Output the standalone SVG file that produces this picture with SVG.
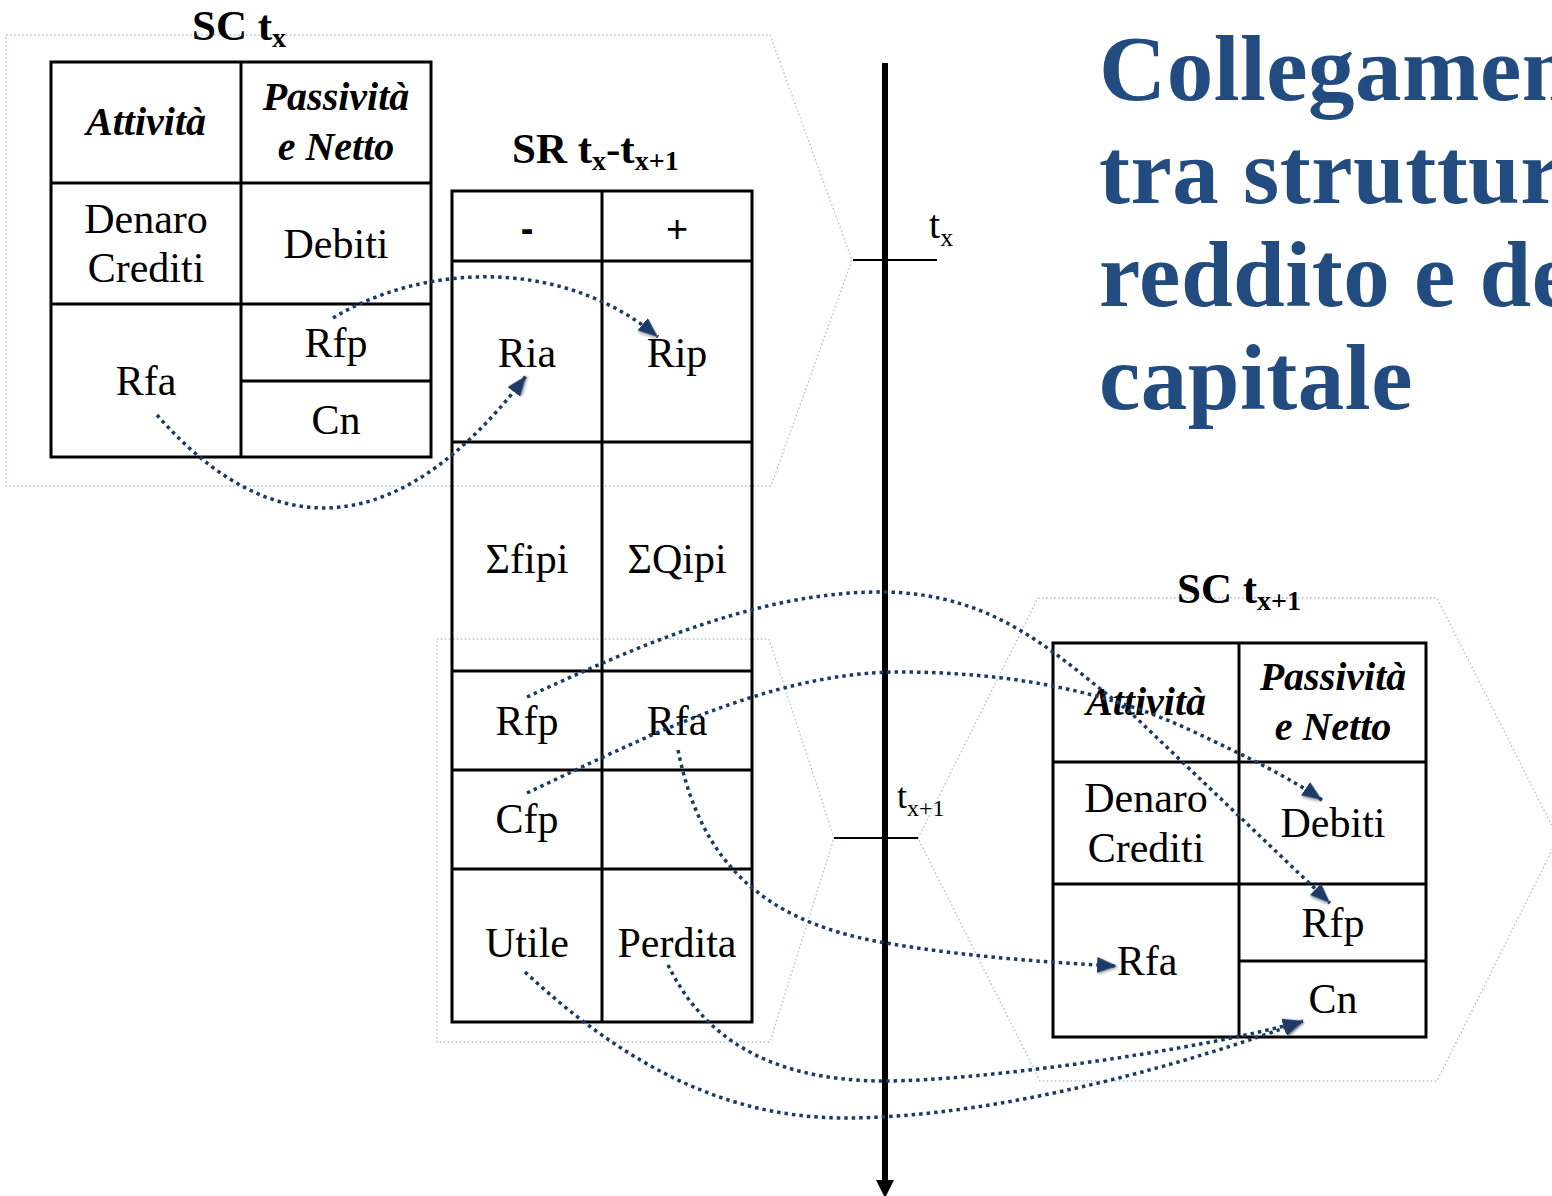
<svg xmlns="http://www.w3.org/2000/svg" width="1552" height="1196" viewBox="0 0 1552 1196">
<style>
.hex{fill:none;stroke:#A9BEDC;stroke-width:1.3;stroke-dasharray:1.5 2.5}
.tb{fill:none;stroke:#000;stroke-width:3}
.t{font-family:"Liberation Serif","DejaVu Serif",serif;font-size:42px;fill:#000;text-anchor:middle}
.bi{font-family:"Liberation Serif","DejaVu Serif",serif;font-size:40px;font-weight:bold;font-style:italic;fill:#000;text-anchor:middle}
.hd{font-family:"Liberation Serif","DejaVu Serif",serif;font-size:43px;font-weight:bold;fill:#000}
.sg{font-family:"Liberation Sans",Arial,sans-serif;font-size:38px;fill:#000;text-anchor:middle}
.ax{font-family:"Liberation Serif","DejaVu Serif",serif;fill:#000}
.ti{font-family:"Liberation Serif","DejaVu Serif",serif;font-size:93px;font-weight:bold;fill:#224B7F;letter-spacing:0.5px}
.cn{fill:none;stroke:#1B3A66;stroke-width:3.5;stroke-dasharray:3.5 4;marker-end:url(#ah)}
</style>
<defs>
<filter id="sh" x="-50%" y="-50%" width="200%" height="200%">
<feDropShadow dx="1.5" dy="1.5" stdDeviation="1" flood-color="#000" flood-opacity="0.35"/>
</filter>
<marker id="ah" markerWidth="22" markerHeight="18" refX="20" refY="8" orient="auto" markerUnits="userSpaceOnUse">
<path d="M0,0 L20,8 L0,16 z" fill="#1B3A66" filter="url(#sh)"/>
</marker>
</defs>
<rect width="1552" height="1196" fill="#fff"/>

<g id="frames">
<polygon class="hex" points="6,35 770,35 852,260 771,486 6,486"/>
<polygon class="hex" points="437,639 769,639 834,838 770,1042 437,1042"/>
<polygon class="hex" points="1038,598 1437,598 1558,838 1437,1081 1040,1081 918,838"/>
</g>

<g id="title">
<text class="ti" x="1099" y="100">Collegamento</text>
<text class="ti" x="1099" y="203">tra struttura</text>
<text class="ti" x="1099" y="306">reddito e del</text>
<text class="ti" x="1099" y="409">capitale</text>
</g>

<g id="time-axis">
<line x1="885" y1="63" x2="885" y2="1182" stroke="#000" stroke-width="6"/>
<polygon points="876,1180 894,1180 885,1198" fill="#000"/>
<line x1="853" y1="260" x2="937" y2="260" stroke="#000" stroke-width="2"/>
<line x1="834" y1="838" x2="918" y2="838" stroke="#000" stroke-width="2"/>
<text class="ax" x="929" y="238" font-size="40">t<tspan font-size="26" dy="8">x</tspan></text>
<text class="ax" x="897" y="808" font-size="36">t<tspan font-size="24" dy="8">x+1</tspan></text>
</g>

<g id="sc-tx">
<text class="hd" x="192" y="40">SC t<tspan font-size="28" dy="7">x</tspan></text>
<rect class="tb" x="51" y="62" width="380" height="395"/>
<line class="tb" x1="241" y1="62" x2="241" y2="457"/>
<line class="tb" x1="51" y1="183" x2="431" y2="183"/>
<line class="tb" x1="51" y1="304" x2="431" y2="304"/>
<line class="tb" x1="241" y1="381" x2="431" y2="381"/>
<text class="bi" x="146" y="135">Attività</text>
<text class="bi" x="336" y="110">Passività</text>
<text class="bi" x="336" y="160">e Netto</text>
<text class="t" x="146" y="233">Denaro</text>
<text class="t" x="146" y="282">Crediti</text>
<text class="t" x="336" y="258">Debiti</text>
<text class="t" x="146" y="395">Rfa</text>
<text class="t" x="336" y="357">Rfp</text>
<text class="t" x="336" y="434">Cn</text>
</g>

<g id="sr">
<text class="hd" x="512" y="163">SR t<tspan font-size="28" dy="7">x</tspan><tspan dy="-7">-t</tspan><tspan font-size="28" dy="7">x+1</tspan></text>
<rect class="tb" x="452" y="191" width="300" height="831"/>
<line class="tb" x1="602" y1="191" x2="602" y2="1022"/>
<line class="tb" x1="452" y1="261" x2="752" y2="261"/>
<line class="tb" x1="452" y1="442" x2="752" y2="442"/>
<line class="tb" x1="452" y1="671" x2="752" y2="671"/>
<line class="tb" x1="452" y1="770" x2="752" y2="770"/>
<line class="tb" x1="452" y1="869" x2="752" y2="869"/>
<text class="sg" x="527" y="242" font-weight="bold">-</text>
<text class="sg" x="677" y="242">+</text>
<text class="t" x="527" y="367">Ria</text>
<text class="t" x="677" y="367">Rip</text>
<text class="t" x="527" y="573">Σfipi</text>
<text class="t" x="677" y="573">ΣQipi</text>
<text class="t" x="527" y="735">Rfp</text>
<text class="t" x="677" y="735">Rfa</text>
<text class="t" x="527" y="833">Cfp</text>
<text class="t" x="527" y="957">Utile</text>
<text class="t" x="677" y="957">Perdita</text>
</g>

<g id="sc-tx1">
<text class="hd" x="1177" y="603">SC t<tspan font-size="28" dy="7">x+1</tspan></text>
<rect class="tb" x="1053" y="643" width="373" height="394"/>
<line class="tb" x1="1239" y1="643" x2="1239" y2="1037"/>
<line class="tb" x1="1053" y1="762" x2="1426" y2="762"/>
<line class="tb" x1="1053" y1="884" x2="1426" y2="884"/>
<line class="tb" x1="1239" y1="961" x2="1426" y2="961"/>
<text class="bi" x="1146" y="715">Attività</text>
<text class="bi" x="1333" y="690">Passività</text>
<text class="bi" x="1333" y="740">e Netto</text>
<text class="t" x="1146" y="812">Denaro</text>
<text class="t" x="1146" y="862">Crediti</text>
<text class="t" x="1333" y="837">Debiti</text>
<text class="t" x="1147" y="975">Rfa</text>
<text class="t" x="1333" y="937">Rfp</text>
<text class="t" x="1333" y="1013">Cn</text>
</g>

<g id="connectors">
<path class="cn" d="M333,318 C420,265 560,255 658,337"/>
<path class="cn" d="M157,415 C240,510 370,580 526,376"/>
<path class="cn" d="M527,697 C640,645 760,592 880,592 C1000,592 1060,660 1130,712 L1330,903"/>
<path class="cn" d="M527,793 C640,740 770,672 900,672 C1000,672 1100,688 1190,730 C1250,758 1290,778 1322,800"/>
<path class="cn" d="M678,750 C700,860 760,920 880,942 C960,956 1040,962 1117,966"/>
<path class="cn" d="M668,965 C700,1030 760,1081 885,1081 C980,1081 1200,1050 1303,1021"/>
<path class="cn" d="M525,972 C620,1060 720,1118 845,1118 C1000,1118 1200,1060 1303,1021"/>
</g>
</svg>
